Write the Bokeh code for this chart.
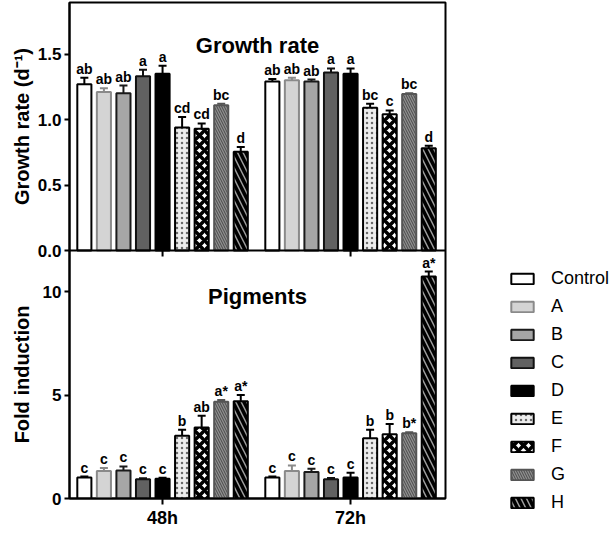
import math
from bokeh.plotting import figure
from bokeh.layouts import row
from bokeh.models import (FixedTicker, Range1d, Whisker, ColumnDataSource, Legend,
                          LegendItem, Label, TeeHead, Span)
from bokeh.core.properties import value
from bokeh.embed import file_html
from bokeh.resources import INLINE

# ---------------- data ----------------
groups = ["48h", "72h"]
treatments = ["Control", "A", "B", "C", "D", "E", "F", "G", "H"]

growth_48 = [1.27, 1.21, 1.20, 1.33, 1.35, 0.94, 0.93, 1.11, 0.755]
growth_48_err = [0.05, 0.03, 0.06, 0.05, 0.06, 0.08, 0.04, 0.01, 0.035]
growth_48_sig = ["ab", "ab", "ab", "a", "a", "cd", "cd", "bc", "d"]

growth_72 = [1.29, 1.30, 1.29, 1.36, 1.35, 1.09, 1.04, 1.195, 0.78]
growth_72_err = [0.02, 0.02, 0.015, 0.03, 0.04, 0.03, 0.03, 0.005, 0.02]
growth_72_sig = ["ab", "ab", "ab", "a", "a", "bc", "c", "bc", "d"]

pig_48 = [1.02, 1.33, 1.36, 0.93, 0.96, 3.04, 3.43, 4.68, 4.70]
pig_48_err = [0.04, 0.14, 0.19, 0.05, 0.05, 0.29, 0.57, 0.09, 0.31]
pig_48_sig = ["c", "c", "c", "c", "c", "b", "ab", "a*", "a*"]

pig_72 = [1.02, 1.33, 1.28, 0.93, 1.02, 2.92, 3.11, 3.16, 10.74]
pig_72_err = [0.04, 0.27, 0.16, 0.06, 0.22, 0.41, 0.49, 0.05, 0.24]
pig_72_sig = ["c", "c", "c", "c", "c", "b", "b", "b*", "a*"]

growth_ticks = [0.0, 0.5, 1.0, 1.5]
growth_tick_labels = ["0.0", "0.5", "1.0", "1.5"]
pig_ticks = [0, 5, 10]
pig_tick_labels = ["0", "5", "10"]

panel_titles = ["Growth rate", "Pigments"]
axis_titles = ["Growth rate (d\u207b\u00b9)", "Fold induction"]

# ---------------- styles ----------------
FONT = "Liberation Sans"
styles = [
    dict(fill_color="white", line_color="black"),
    dict(fill_color="#d4d4d4", line_color="#8a8a8a"),
    dict(fill_color="#a6a6a6", line_color="#1a1a1a"),
    dict(fill_color="#616161", line_color="#111111"),
    dict(fill_color="black", line_color="black"),
    dict(fill_color="#ededed", line_color="black", hatch_pattern=".",
         hatch_color="#6a6a6a", hatch_scale=5, hatch_weight=1),
    dict(fill_color="white", line_color="black", hatch_pattern="x",
         hatch_color="black", hatch_scale=10, hatch_weight=3.5),
    dict(fill_color="#8e8e8e", line_color="#555555", hatch_pattern="\\",
         hatch_color="#4a4a4a", hatch_scale=5, hatch_weight=1),
    dict(fill_color="#a0a0a0", line_color="black", hatch_pattern="\\",
         hatch_color="black", hatch_scale=11, hatch_weight=3.5),
]
err_colors = ["black", "#8a8a8a", "#1a1a1a", "#111111", "black", "black",
              "black", "#555555", "black"]

PITCH = 0.104
BAR_W = 0.075
FRAME_W = 376
FRAME_H = 496            # both panels
PIG_MAX = 12.0           # pigment panel top
GROWTH_MAX = 1.894       # growth panel top
X_RANGE = (0.505, 2.505)
STRIP_W = 34

yr = Range1d(0, 2 * PIG_MAX)
# main range: pigments in the lower half; extra range: growth in the upper half
p = figure(frame_width=FRAME_W, frame_height=FRAME_H,
           x_range=Range1d(*X_RANGE), y_range=yr,
           toolbar_location=None, output_backend="svg",
           min_border_left=67 - STRIP_W, min_border_right=157, min_border_top=2,
           min_border_bottom=0)
p.extra_y_ranges = {"growth": Range1d(-GROWTH_MAX, GROWTH_MAX)}


def to_main(g):
    return PIG_MAX + g * PIG_MAX / GROWTH_MAX


def draw_panel(vals48, err48, sig48, vals72, err72, sig72, yname):
    kw = {} if yname == "default" else {"y_range_name": yname}
    renderers = []
    for i, t in enumerate(treatments):
        off = (i - 4) * PITCH
        tops = [vals48[i], vals72[i]]
        errs = [err48[i], err72[i]]
        src = ColumnDataSource(dict(
            x=[1 + off, 2 + off],
            top=tops,
            upper=[v + e for v, e in zip(tops, errs)],
            sig=[sig48[i], sig72[i]],
        ))
        w = Whisker(base="x", lower="top", upper="upper", source=src,
                    dimension="height", line_color=err_colors[i], line_width=2,
                    lower_head=None,
                    upper_head=TeeHead(size=8, line_color=err_colors[i], line_width=2),
                    **kw)
        p.add_layout(w)
        r = p.vbar(x="x", top="top", width=BAR_W, bottom=0, source=src,
                   line_width=2, **styles[i], **kw)
        p.text(x="x", y="upper", text="sig", source=src, text_align="center",
               text_baseline="bottom", y_offset=-1, text_font=value(FONT),
               text_font_style="bold", text_font_size="14px", text_color="black", **kw)
        renderers.append(r)
    return renderers


draw_panel(growth_48, growth_48_err, growth_48_sig,
           growth_72, growth_72_err, growth_72_sig, "growth")
pig_renderers = draw_panel(pig_48, pig_48_err, pig_48_sig,
                           pig_72, pig_72_err, pig_72_sig, "default")

# panel separator + small ticks of the upper panel
p.add_layout(Span(location=PIG_MAX, dimension="width", line_color="black",
                  line_width=2, level="overlay"))
px_unit = 2 * PIG_MAX / FRAME_H
p.segment(x0=[1, 2], x1=[1, 2], y0=[PIG_MAX] * 2, y1=[PIG_MAX - 6 * px_unit] * 2,
          line_color="black", line_width=2)

# axes
ticks_all = [float(t) for t in pig_ticks] + [to_main(g) for g in growth_ticks]
labels_all = pig_tick_labels + growth_tick_labels
p.yaxis.ticker = FixedTicker(ticks=ticks_all)
p.yaxis.major_label_overrides = {t: l for t, l in zip(ticks_all, labels_all)}
p.yaxis.major_label_text_font_size = "17px"
p.yaxis.major_label_standoff = 3
p.xaxis.ticker = FixedTicker(ticks=[1, 2])
p.xaxis.major_label_overrides = {1: groups[0], 2: groups[1]}
p.xaxis.major_label_text_font_size = "18px"
p.xaxis.major_label_standoff = 3
for ax in p.axis:
    ax.axis_line_width = 2
    ax.axis_line_color = "black"
    ax.major_tick_line_width = 2
    ax.major_tick_out = 6
    ax.major_tick_in = 0
    ax.minor_tick_line_color = None
    ax.major_label_text_font = FONT
    ax.major_label_text_font_style = "bold"
    ax.major_label_text_color = "black"
p.yaxis.major_tick_out = 5
p.grid.visible = False
p.outline_line_color = "black"
p.outline_line_width = 2

# panel titles (alphabetic baseline)
p.add_layout(Label(x=sum(X_RANGE) / 2, y=1.568, y_range_name="growth", text=panel_titles[0],
                   text_align="center", text_baseline="alphabetic",
                   text_font=FONT, text_font_style="bold",
                   text_font_size="22px", text_color="black"))
p.add_layout(Label(x=sum(X_RANGE) / 2, y=9.77, text=panel_titles[1],
                   text_align="center", text_baseline="alphabetic",
                   text_font=FONT, text_font_style="bold",
                   text_font_size="22px", text_color="black"))

# legend in the right side panel
items = [LegendItem(label=t, renderers=[r]) for t, r in zip(treatments, pig_renderers)]
legend = Legend(items=items, location=(63, -15), margin=0, padding=0,
                glyph_width=28, glyph_height=13, label_height=20, spacing=7,
                label_standoff=15, label_text_font=FONT, label_text_font_size="18px",
                label_text_color="black", border_line_color=None,
                background_fill_alpha=0)
p.add_layout(legend, "right")

# narrow strip on the left holding the two rotated axis titles
lab = figure(frame_width=STRIP_W, frame_height=FRAME_H, x_range=Range1d(0, 1), y_range=yr,
             toolbar_location=None, output_backend="svg",
             x_axis_type=None, y_axis_type=None, min_border_left=0,
             min_border_right=0, min_border_top=2, min_border_bottom=0,
             outline_line_color=None)
lab.grid.visible = False
lab.text(x=[0.62, 0.62], y=[PIG_MAX * 1.5, PIG_MAX * 0.5], text=axis_titles,
         angle=math.pi / 2, text_align="center", text_baseline="middle",
         text_font=value(FONT), text_font_style="bold", text_font_size="20px",
         text_color="black")

layout = row(lab, p, spacing=0)
open("out.html", "w").write(file_html(layout, INLINE))
